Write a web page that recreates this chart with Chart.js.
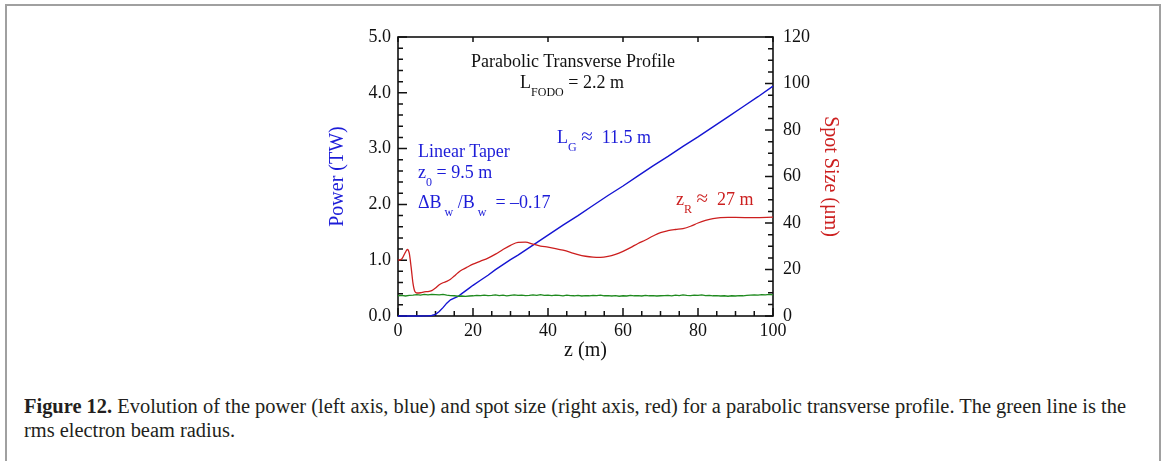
<!DOCTYPE html>
<html>
<head>
<meta charset="utf-8">
<script src="https://cdn.jsdelivr.net/npm/chart.js@4.4.1/dist/chart.umd.min.js"></script>
<style>
  html, body { margin: 0; padding: 0; background: #fff; }
  body { width: 1168px; height: 461px; position: relative; overflow: hidden; font-family: "Liberation Serif", "DejaVu Serif", serif; }
  #frame { position: absolute; left: 5px; top: 4px; width: 1156px; height: 480px; border: 2px solid #a0a0a0; border-bottom: none; box-sizing: border-box; }
  #wrap { position: absolute; left: 0; top: 0; width: 1168px; height: 380px; }
  .ann { position: absolute; white-space: nowrap; font-size: 18px; line-height: 18px; color: #111; font-family: "Liberation Serif", serif; }
  .blue { color: #1c1cd8; }
  .red { color: #cc1f1f; }
  .sub { font-size: 12px; vertical-align: -8px; line-height: 0; }
  .approx { font-size: 21px; }
  .cap { position: absolute; left: 24px; white-space: nowrap; font-family: "Liberation Serif", serif; font-size: 20px; line-height: 20px; color: #231f20; transform-origin: 0 0; }
</style>
</head>
<body>
<div id="frame"></div>
<div id="wrap"><canvas id="c" width="1168" height="380"></canvas></div>

<div class="ann" style="left:573px; top:52px; transform:translateX(-50%);">Parabolic Transverse Profile</div>
<div class="ann" style="left:572px; top:73px; transform:translateX(-50%);">L<span class="sub">FODO</span> = 2.2 m</div>
<div class="ann blue" style="left:418px; top:142px;">Linear Taper</div>
<div class="ann blue" style="left:418px; top:163px;">z<span class="sub">0</span> = 9.5 m</div>
<div class="ann blue" style="left:418px; top:193px;">ΔB<span class="sub">&nbsp;w</span>&nbsp;/B<span class="sub">&nbsp;w</span>&nbsp;&nbsp;= –0.17</div>
<div class="ann blue" style="left:557px; top:127px;">L<span class="sub">G</span>&nbsp;<span class="approx">≈</span> &nbsp;11.5 m</div>
<div class="ann red" style="left:676px; top:189px;">z<span class="sub">R</span>&nbsp;<span class="approx">≈</span> &nbsp;27 m</div>

<div class="cap" id="cap1" style="top:396px;"><b>Figure 12.</b> Evolution of the power (left axis, blue) and spot size (right axis, red) for a parabolic transverse profile. The green line is the</div>
<div class="cap" id="cap2" style="top:420px;">rms electron beam radius.</div>

<script>
// ---- Data ----
const zPower = [0, 2, 4, 6, 8, 9, 10, 11, 12, 13, 14, 15, 16, 17, 18, 19, 20, 22, 24, 26, 28, 30, 32, 34, 36, 38, 40, 44, 48, 52, 56, 60, 64, 68, 72, 76, 80, 84, 88, 92, 96, 100];
const power  = [0, 0, 0, 0, 0.005, 0.01, 0.03, 0.08, 0.15, 0.23, 0.29, 0.32, 0.35, 0.40, 0.45, 0.50, 0.55, 0.64, 0.73, 0.83, 0.92, 1.01, 1.09, 1.18, 1.27, 1.36, 1.45, 1.63, 1.80, 1.98, 2.16, 2.33, 2.51, 2.69, 2.86, 3.04, 3.21, 3.39, 3.57, 3.75, 3.93, 4.12];

const zSpot = [0, 1, 2, 2.5, 3, 3.5, 4, 4.5, 5, 6, 7, 8, 9, 10, 11, 12, 13, 14, 15, 16, 17, 18, 19, 20, 22, 24, 26, 28, 30, 32, 34, 36, 38, 40, 42, 44, 46, 48, 50, 52, 54, 56, 58, 60, 62, 64, 66, 68, 70, 72, 74, 76, 78, 80, 82, 84, 86, 88, 90, 95, 100];
const spot  = [24, 24.5, 27.5, 28.6, 27, 21, 14, 10.5, 9.9, 10, 10.4, 10.5, 10.9, 12, 13.4, 14.3, 14.9, 15.8, 17.2, 18.6, 19.8, 20.6, 21.5, 22.3, 23.6, 24.9, 26.6, 28.6, 30.4, 31.7, 31.8, 30.9, 30.1, 29.6, 29.0, 28.3, 27.4, 26.4, 25.7, 25.3, 25.2, 25.6, 26.5, 27.8, 29.4, 31.2, 32.7, 34.4, 35.9, 36.7, 37.2, 37.6, 38.6, 40.0, 41.1, 41.9, 42.3, 42.4, 42.4, 42.3, 42.5];

// rms electron beam radius (µm), one value per metre z = 0 … 100
const beamRadius = [
  8.7,8.9,8.6,8.9,9.0,9.2,9.0,9.3,9.1,9.3,
  9.2,9.1,9.3,9.0,8.8,8.7,8.5,8.6,8.4,8.6,
  8.7,8.9,8.8,9.0,8.8,8.9,9.1,8.8,9.0,8.7,
  8.9,9.1,8.9,9.0,8.8,8.9,9.1,8.9,9.2,8.9,
  9.0,8.8,9.0,8.9,8.7,9.0,8.8,8.7,8.9,8.6,
  8.8,8.7,8.9,8.8,9.0,8.7,8.8,8.6,8.8,8.5,
  8.7,8.6,8.9,8.7,8.8,8.6,8.9,8.7,8.8,8.6,
  8.7,8.8,8.9,8.7,9.0,8.8,9.1,8.9,8.8,9.0,
  8.9,9.1,8.8,8.9,8.7,8.8,8.6,8.7,8.5,8.7,
  8.6,8.8,8.7,8.9,9.0,9.1,9.0,9.2,9.1,9.3,
  9.1
];

const xTicks = [0, 20, 40, 60, 80, 100];
const yLeftTicks = [0, 1, 2, 3, 4, 5];
const yRightTicks = [0, 20, 40, 60, 80, 100, 120];

// ---- Build datasets ----
const powerData = zPower.map((z, i) => ({ x: z, y: power[i] }));
const spotData = zSpot.map((z, i) => ({ x: z, y: spot[i] }));
const beamData = beamRadius.map((r, i) => ({ x: i, y: r }));

const FONT = '"Liberation Serif", "DejaVu Serif", serif';

const tickPlugin = {
  id: 'inwardTicks',
  beforeDatasetsDraw(chart) {
    const ctx = chart.ctx;
    const a = chart.chartArea;
    const xs = chart.scales.x, yl = chart.scales.y, yr = chart.scales.y2;
    ctx.save();
    ctx.strokeStyle = '#111';
    ctx.lineWidth = 1.5;
    ctx.beginPath();
    for (let v = 0; v <= 100; v += 5) {
      const px = xs.getPixelForValue(v);
      const major = v % 20 === 0;
      ctx.moveTo(px, a.bottom);
      ctx.lineTo(px, a.bottom - (major ? 8 : 5));
      if (major) { ctx.moveTo(px, a.top); ctx.lineTo(px, a.top + 5); }
    }
    for (let k = 0; k <= 25; k++) {
      const v = k * 0.2;
      const py = yl.getPixelForValue(v);
      const major = k % 5 === 0;
      ctx.moveTo(a.left, py);
      ctx.lineTo(a.left + (major ? 9 : 5), py);
    }
    for (let v = 0; v <= 120; v += 5) {
      const py = yr.getPixelForValue(v);
      const major = v % 20 === 0;
      ctx.moveTo(a.right, py);
      ctx.lineTo(a.right - (major ? 8 : 5), py);
    }
    ctx.stroke();
    ctx.lineWidth = 1.6;
    ctx.strokeRect(a.left, a.top, a.right - a.left, a.bottom - a.top);
    ctx.restore();
  }
};

function fixedTicks(list) {
  return function (scale) { scale.ticks = list.map(v => ({ value: v })); };
}

new Chart(document.getElementById('c'), {
  type: 'line',
  data: {
    datasets: [
      { data: beamData, yAxisID: 'y2', borderColor: '#1f8a1f', borderWidth: 1.3, pointRadius: 0, tension: 0 },
      { data: spotData, yAxisID: 'y2', borderColor: '#cc1f1f', borderWidth: 1.3, pointRadius: 0, cubicInterpolationMode: 'monotone' },
      { data: powerData, yAxisID: 'y', borderColor: '#1414d2', borderWidth: 1.4, pointRadius: 0, tension: 0, clip: 3 }
    ]
  },
  options: {
    responsive: false,
    animation: false,
    events: [],
    layout: { padding: { left: 326, right: 326, top: 37, bottom: 17 } },
    plugins: { legend: { display: false }, tooltip: { enabled: false } },
    scales: {
      x: {
        type: 'linear', position: 'bottom', min: 0, max: 100,
        afterBuildTicks: fixedTicks(xTicks),
        afterFit(s) { s.height = 47; },
        grid: { drawOnChartArea: false, drawTicks: false },
        border: { display: false },
        ticks: { padding: 4, color: '#111', font: { family: FONT, size: 18 }, maxRotation: 0 },
        title: { display: true, text: 'z (m)', color: '#111', font: { family: FONT, size: 20 }, padding: 0 }
      },
      y: {
        type: 'linear', position: 'left', min: 0, max: 5,
        afterBuildTicks: fixedTicks(yLeftTicks),
        afterFit(s) { s.width = 72; },
        grid: { drawOnChartArea: false, drawTicks: false },
        border: { display: false },
        ticks: { padding: 7, color: '#111', font: { family: FONT, size: 18 }, callback: v => v.toFixed(1) },
        title: { display: true, text: 'Power (TW)', color: '#1c1cd8', font: { family: FONT, size: 20 }, padding: 0 }
      },
      y2: {
        type: 'linear', position: 'right', min: 0, max: 120,
        afterBuildTicks: fixedTicks(yRightTicks),
        afterFit(s) { s.width = 69; },
        grid: { drawOnChartArea: false, drawTicks: false },
        border: { display: false },
        ticks: { padding: 10, color: '#111', font: { family: FONT, size: 18 } },
        title: { display: true, text: 'Spot Size (μm)', color: '#cc1f1f', font: { family: FONT, size: 20 }, padding: 0 }
      }
    }
  },
  plugins: [tickPlugin]
});

// fit caption line width to the reference (line 1 spans x = 24 … 1126)
(function () {
  const c1 = document.getElementById('cap1');
  const c2 = document.getElementById('cap2');
  const w = c1.getBoundingClientRect().width;
  const s = 1102 / w;
  c1.style.transform = 'scaleX(' + s + ')';
  c2.style.transform = 'scaleX(' + s + ')';
})();
</script>
</body>
</html>
